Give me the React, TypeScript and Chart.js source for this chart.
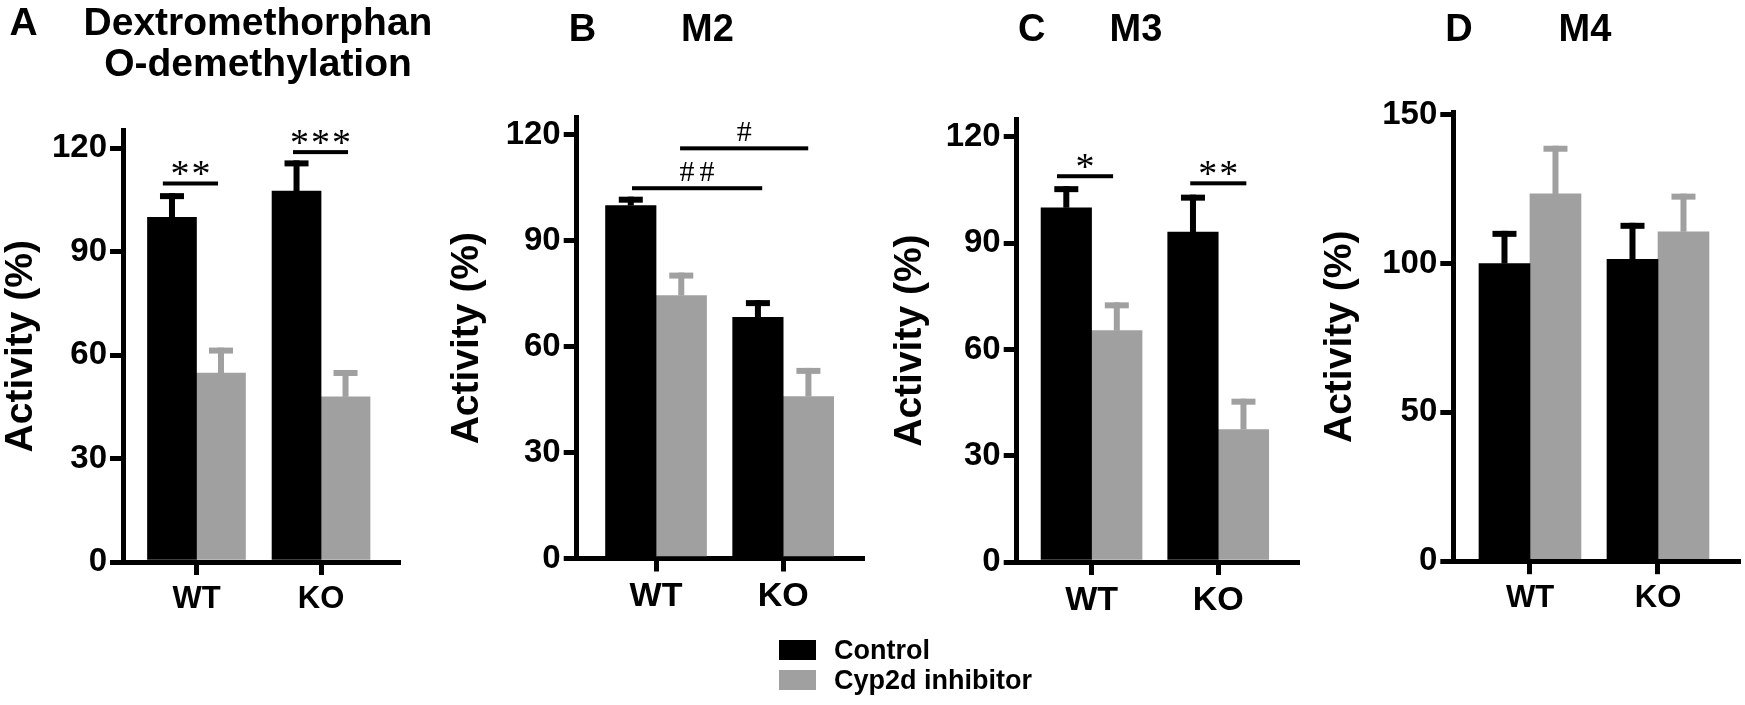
import React, { useEffect, useRef } from 'react';
import { Chart, registerables } from 'chart.js';

Chart.register(...registerables);

// ---------- data ----------
const categories = ['WT', 'KO'];
const seriesNames = ['Control', 'Cyp2d inhibitor'];
const seriesColors = ['#000000', '#a0a0a0'];

const panelLetters = ['A', 'B', 'C', 'D'];
const panelTitles = [['Dextromethorphan', 'O-demethylation'], ['M2'], ['M3'], ['M4']];
const yAxisTitle = 'Activity (%)';

// A: Dextromethorphan O-demethylation
const aControl = [100, 107.6];
const aControlSem = [7.0, 8.9];
const aInhibitor = [54.8, 47.9];
const aInhibitorSem = [7.4, 7.8];
// B: M2
const bControl = [100, 68.3];
const bControlSem = [2.5, 4.9];
const bInhibitor = [74.5, 45.9];
const bInhibitorSem = [6.5, 8.1];
// C: M3
const cControl = [100, 93.1];
const cControlSem = [6.1, 10.6];
const cInhibitor = [65.3, 37.4];
const cInhibitorSem = [8.0, 8.7];
// D: M4
const dControl = [100, 101.4];
const dControlSem = [11.0, 12.3];
const dInhibitor = [123.4, 110.7];
const dInhibitorSem = [16.2, 12.8];

const ticks120 = [0, 30, 60, 90, 120];
const ticks150 = [0, 50, 100, 150];

// significance brackets (x in category units, y in activity units)
const aSig = [
  { from: -0.27, to: 0.173, at: 109.8, label: '**' },
  { from: 0.775, to: 1.217, at: 118.9, label: '***' },
];
const bSig = [
  { from: -0.189, to: 0.835, at: 104.9, label: '##' },
  { from: 0.189, to: 1.197, at: 116.2, label: '#' },
];
const cSig = [
  { from: -0.273, to: 0.17, at: 108.9, label: '*' },
  { from: 0.779, to: 1.222, at: 106.9, label: '**' },
];
const dSig: { from: number; to: number; at: number; label: string }[] = [];

// ---------- layout / style ----------
const FONT = '"Liberation Sans", Arial, Helvetica, sans-serif';
const SERIF = '"Liberation Serif", "Times New Roman", serif';
const H = 705;

const panels = [
  {
    control: aControl, controlSem: aControlSem, inhibitor: aInhibitor, inhibitorSem: aInhibitorSem,
    ticks: ticks120, yMax: 125.2, sig: aSig,
    canvasLeft: 0, axisX: 123, axisRight: 398, axisTop: 130.4, zeroY: 562,
    xMin: -0.59, xMax: 1.618, barWidth: 49, xFont: 31, titlePad: 2,
  },
  {
    control: bControl, controlSem: bControlSem, inhibitor: bInhibitor, inhibitorSem: bInhibitorSem,
    ticks: ticks120, yMax: 124.85, sig: bSig,
    canvasLeft: 440, axisX: 576.7, axisRight: 861.7, axisTop: 117.8, zeroY: 558.5,
    xMin: -0.624, xMax: 1.62, barWidth: 50.5, xFont: 34, titlePad: 7.5,
  },
  {
    control: cControl, controlSem: cControlSem, inhibitor: cInhibitor, inhibitorSem: cInhibitorSem,
    ticks: ticks120, yMax: 125.0, sig: cSig,
    canvasLeft: 880, axisX: 1016.7, axisRight: 1296.7, axisTop: 119.2, zeroY: 562,
    xMin: -0.591, xMax: 1.622, barWidth: 50.5, xFont: 34, titlePad: 10.5,
  },
  {
    control: dControl, controlSem: dControlSem, inhibitor: dInhibitor, inhibitorSem: dInhibitorSem,
    ticks: ticks150, yMax: 150.8, sig: dSig,
    canvasLeft: 1310, axisX: 1453.3, axisRight: 1738, axisTop: 112.4, zeroY: 561.2,
    xMin: -0.599, xMax: 1.625, barWidth: 51, xFont: 31, titlePad: 10.5,
  },
];

const titleLayout = [
  { letterX: 23.5, titleX: 258, ys: [21, 62], size: 39 },
  { letterX: 582.5, titleX: 707.5, ys: [28], size: 38 },
  { letterX: 1031.7, titleX: 1136, ys: [28], size: 38 },
  { letterX: 1459, titleX: 1585, ys: [28], size: 38 },
];

type PanelCfg = (typeof panels)[number];

function makeMarksPlugin(p: PanelCfg) {
  const sems = [p.controlSem, p.inhibitorSem];
  return {
    id: 'panelMarks',
    afterDatasetsDraw(chart: any) {
      const { ctx } = chart;
      const ys = chart.scales.y;
      ctx.save();
      chart.data.datasets.forEach((ds: any, di: number) => {
        const meta = chart.getDatasetMeta(di);
        meta.data.forEach((bar: any, i: number) => {
          const mean = ds.data[i].y;
          const top = ys.getPixelForValue(mean);
          const errTop = ys.getPixelForValue(mean + sems[di][i]);
          const stemW = 6;
          const capW = 24;
          const capH = 6;
          ctx.fillStyle = ds.backgroundColor;
          ctx.fillRect(bar.x - stemW / 2, errTop, stemW, top - errTop);
          ctx.fillRect(bar.x - capW / 2, errTop, capW, capH);
        });
      });
      ctx.restore();
    },
    afterDraw(chart: any) {
      const { ctx } = chart;
      const xs = chart.scales.x;
      const ys = chart.scales.y;
      ctx.save();
      ctx.fillStyle = '#000';
      for (const s of p.sig) {
        const x1 = xs.getPixelForValue(s.from);
        const x2 = xs.getPixelForValue(s.to);
        const yy = ys.getPixelForValue(s.at);
        ctx.fillRect(x1, yy - 2, x2 - x1, 4);
        const isHash = s.label.indexOf('#') >= 0;
        const ls = isHash ? 5 : 2;
        ctx.font = isHash ? `30px ${SERIF}` : `38px ${SERIF}`;
        (ctx as any).letterSpacing = `${ls}px`;
        ctx.textAlign = 'center';
        ctx.textBaseline = 'alphabetic';
        const m = ctx.measureText(s.label);
        const desc = m.actualBoundingBoxDescent;
        const base = yy - 2 - 5 - desc;
        ctx.fillText(s.label, (x1 + x2) / 2 + ls / 2, base);
      }
      ctx.restore();
    },
  };
}

function Panel({ p }: { p: PanelCfg }) {
  const ref = useRef<HTMLCanvasElement | null>(null);
  const width = Math.ceil(p.axisRight - p.canvasLeft + 4);

  useEffect(() => {
    const canvas = ref.current;
    if (!canvas) return;
    const gridCommon = {
      drawOnChartArea: false,
      drawTicks: true,
      tickLength: 13,
      color: '#000',
      tickColor: '#000',
      lineWidth: 5,
      tickWidth: 5,
      offset: false,
    };
    const chart = new Chart(canvas, {
      type: 'bar',
      data: {
        datasets: [
          {
            label: seriesNames[0],
            data: p.control.map((v, i) => ({ x: i, y: v })),
            backgroundColor: seriesColors[0],
            borderWidth: 0,
            barThickness: p.barWidth,
          },
          {
            label: seriesNames[1],
            data: p.inhibitor.map((v, i) => ({ x: i, y: v })),
            backgroundColor: seriesColors[1],
            borderWidth: 0,
            barThickness: p.barWidth,
          },
        ],
      },
      options: {
        animation: false,
        responsive: false,
        maintainAspectRatio: false,
        devicePixelRatio: 1,
        events: [],
        layout: { padding: { left: 0, right: 4, top: p.axisTop, bottom: 0 } },
        plugins: { legend: { display: false }, tooltip: { enabled: false }, title: { display: false } },
        scales: {
          x: {
            type: 'linear',
            min: p.xMin,
            max: p.xMax,
            offset: false,
            z: 1,
            afterBuildTicks: (s: any) => {
              s.ticks = categories.map((_, i) => ({ value: i }));
            },
            afterFit: (s: any) => {
              s.height = H - p.zeroY;
            },
            ticks: {
              callback: (v: any) => categories[v] ?? '',
              color: '#000',
              padding: 8.5,
              maxRotation: 0,
              autoSkip: false,
              font: { family: FONT, size: p.xFont, weight: 'bold', lineHeight: 1 },
            },
            grid: { ...gridCommon },
            border: { display: true, color: '#000', width: 5 },
          },
          y: {
            type: 'linear',
            min: 0,
            max: p.yMax,
            z: 1,
            afterBuildTicks: (s: any) => {
              s.ticks = p.ticks.map((v) => ({ value: v }));
            },
            afterFit: (s: any) => {
              s.width = p.axisX - p.canvasLeft;
            },
            ticks: {
              color: '#000',
              padding: 3,
              font: { family: FONT, size: 33, weight: 'bold', lineHeight: 1 },
            },
            grid: { ...gridCommon },
            border: { display: true, color: '#000', width: 5 },
            title: {
              display: true,
              text: yAxisTitle,
              color: '#000',
              font: { family: FONT, size: 39, weight: 'bold', lineHeight: 1 },
              padding: { top: p.titlePad, bottom: 0 },
            },
          },
        },
      } as any,
      plugins: [makeMarksPlugin(p)],
    });
    return () => chart.destroy();
  }, [p]);

  return (
    <canvas
      ref={ref}
      width={width}
      height={H}
      style={{ position: 'absolute', left: p.canvasLeft, top: 0, width, height: H }}
    />
  );
}

const textStyle = (x: number, y: number, size: number): React.CSSProperties => ({
  position: 'absolute',
  left: x,
  top: y,
  transform: 'translate(-50%, -50%)',
  fontFamily: FONT,
  fontWeight: 'bold',
  fontSize: size,
  lineHeight: 1,
  whiteSpace: 'nowrap',
  color: '#000',
});

export default function App() {
  useEffect(() => {
    document.body.style.margin = '0';
    document.body.style.background = '#fff';
  }, []);

  return (
    <div style={{ position: 'relative', width: 1745, height: H, background: '#fff', overflow: 'hidden' }}>
      {panels.map((p, i) => (
        <Panel key={i} p={p} />
      ))}
      {titleLayout.map((t, i) => (
        <React.Fragment key={'t' + i}>
          <div style={textStyle(t.letterX, t.ys[0], t.size)}>{panelLetters[i]}</div>
          {panelTitles[i].map((line, j) => (
            <div key={j} style={textStyle(t.titleX, t.ys[j], t.size)}>
              {line}
            </div>
          ))}
        </React.Fragment>
      ))}
      {seriesNames.map((name, i) => (
        <React.Fragment key={'l' + i}>
          <div
            style={{
              position: 'absolute',
              left: 779,
              top: 640 + i * 29.5,
              width: 37,
              height: 20,
              background: seriesColors[i],
            }}
          />
          <div
            style={{
              position: 'absolute',
              left: 834,
              top: 650 + i * 30,
              transform: 'translateY(-50%)',
              fontFamily: FONT,
              fontWeight: 'bold',
              fontSize: 27,
              lineHeight: 1,
              whiteSpace: 'nowrap',
              color: '#000',
            }}
          >
            {name}
          </div>
        </React.Fragment>
      ))}
    </div>
  );
}
